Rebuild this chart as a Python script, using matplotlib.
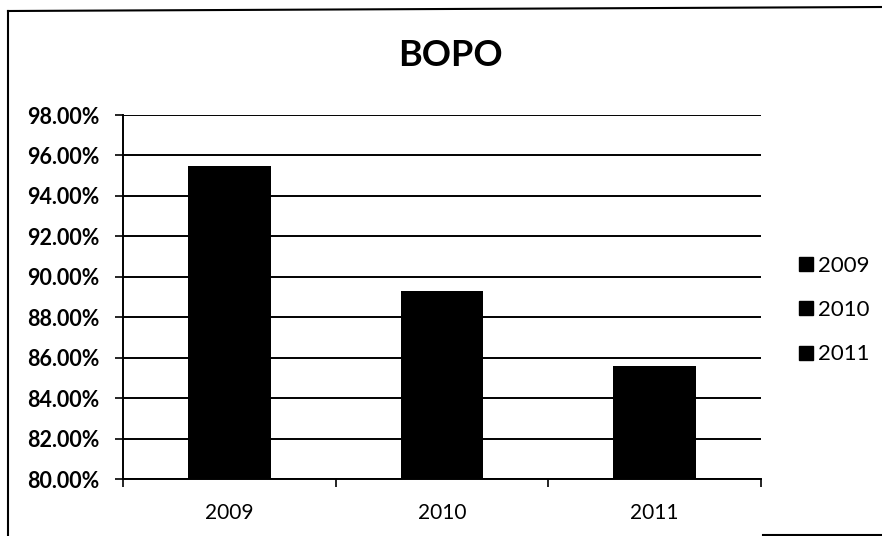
import matplotlib
matplotlib.use("Agg")
import matplotlib.pyplot as plt
from matplotlib.lines import Line2D
from matplotlib.ticker import FuncFormatter

years = ["2009", "2010", "2011"]
bopo = [95.5, 89.3, 85.6]
y_ticks = [80, 82, 84, 86, 88, 90, 92, 94, 96, 98]

plt.rcParams["font.family"] = ["Lato", "DejaVu Sans"]

W, H = 882, 536
fig = plt.figure(figsize=(W / 100, H / 100), dpi=100)
ax = fig.add_axes([123 / W, 1 - 479 / H, (761 - 123) / W, (479 - 115) / H])

x = list(range(len(years)))
ax.bar(x, bopo, width=0.39, color="black", zorder=3)

ax.set_ylim(80, 98)
ax.set_xlim(-0.5, len(years) - 0.5)
ax.set_yticks(y_ticks)
ax.yaxis.set_major_formatter(FuncFormatter(lambda v, p: f"{v:.2f}%"))
ax.grid(axis="y", color="black", linewidth=1.4, zorder=0)

ax.set_xticks(x)
ax.set_xticklabels(years, fontsize=15)
ax.set_xticks([i + 0.5 for i in range(-1, len(years))], minor=True)
ax.tick_params(axis="x", which="major", length=0, pad=17)
ax.tick_params(axis="x", which="minor", length=6, width=1.2, direction="out")
ax.tick_params(axis="y", length=6, width=1.2, labelsize=15.5, pad=11)
for lbl in ax.get_yticklabels():
    lbl.set_fontweight("bold")

for side in ["top", "right"]:
    ax.spines[side].set_visible(False)
ax.spines["left"].set_linewidth(1.4)
ax.spines["bottom"].set_linewidth(1.4)

fig.text(450 / W, 1 - 56 / H, "BOPO", ha="center", va="center",
         fontsize=26, fontweight="bold")

handles = [Line2D([], [], marker="s", linestyle="none", color="black", markersize=10)
           for _ in years]
fig.legend(handles, years, loc="center left", bbox_to_anchor=(784 / W, 1 - 310 / H),
           frameon=False, fontsize=16, handletextpad=0.05, labelspacing=1.1,
           handlelength=1.0, borderpad=0)

# chart frame
fig.add_artist(Line2D([8 / W, 8 / W], [0, 1 - 11 / H], transform=fig.transFigure,
                      color="black", linewidth=1.5))
fig.add_artist(Line2D([8 / W, 1], [1 - 11 / H, 1 - 7 / H], transform=fig.transFigure,
                      color="black", linewidth=1.5))
fig.add_artist(Line2D([763 / W, 1], [1.5 / H, 1.5 / H], transform=fig.transFigure,
                      color="black", linewidth=1.5))

fig.savefig("out.png", dpi=100, facecolor="white")
